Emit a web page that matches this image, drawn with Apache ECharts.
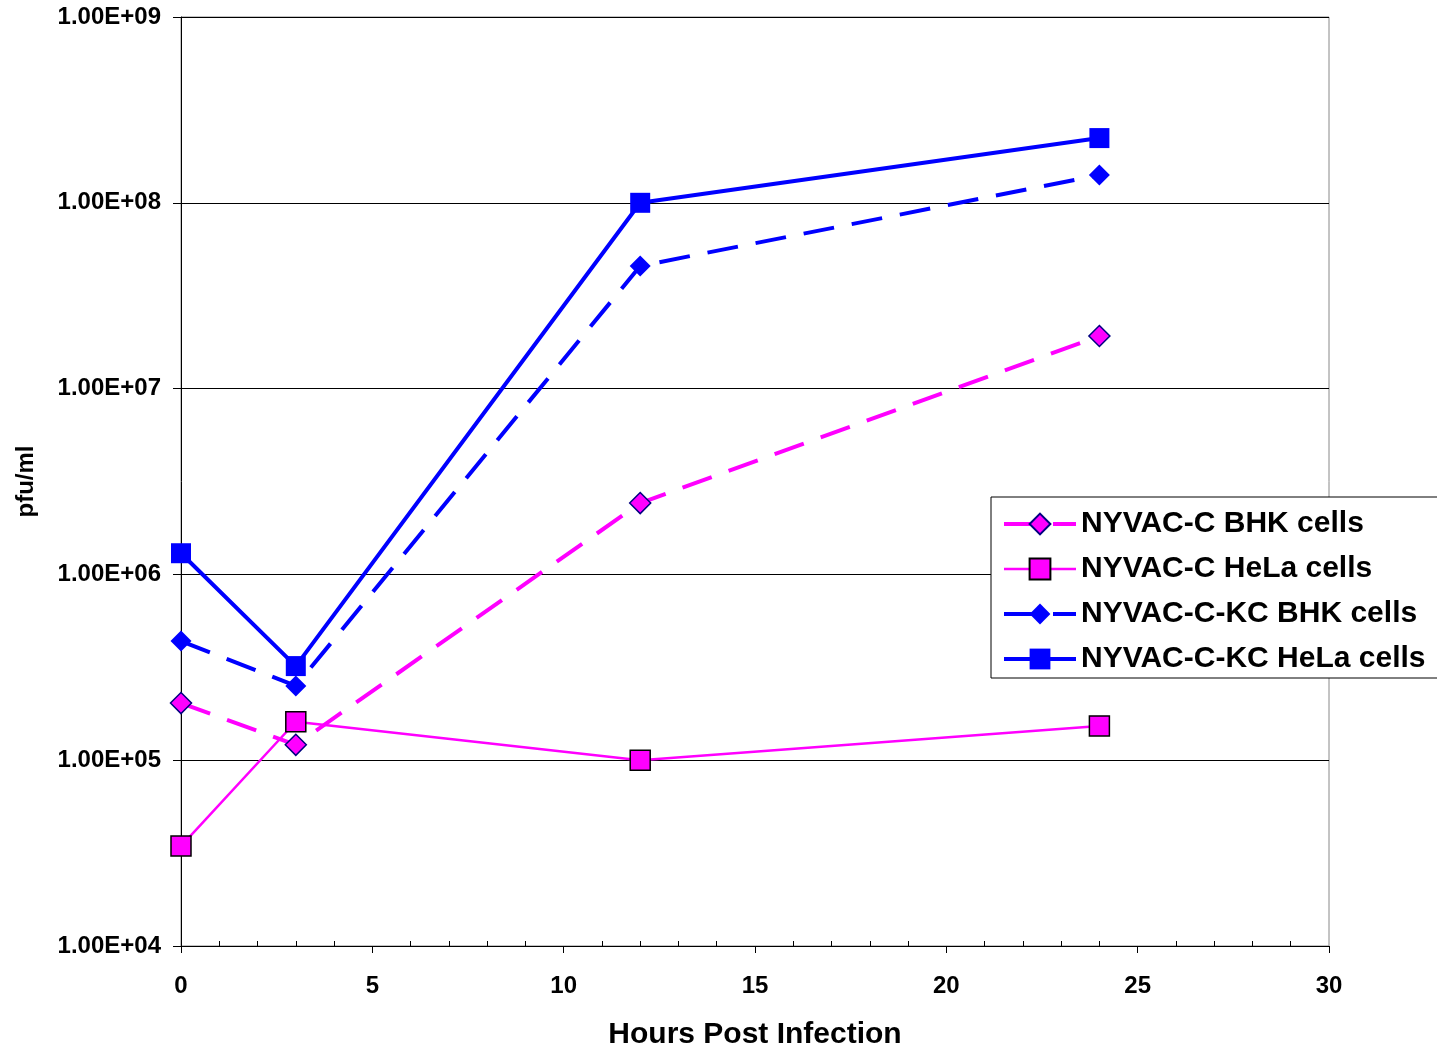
<!DOCTYPE html>
<html>
<head>
<meta charset="utf-8">
<script src="https://cdn.jsdelivr.net/npm/echarts@6/dist/echarts.min.js"></script>
<style>
  html, body { margin: 0; padding: 0; background: #fff; }
  #chart { width: 1437px; height: 1050px; }
</style>
</head>
<body>
<div id="chart"></div>
<script>
const hours = [0, 3, 12, 24]
const bhkC = [2.03e5, 1.21e5, 2.42e6, 1.92e7]
const helaC = [3.45e4, 1.61e5, 1.0e5, 1.53e5]
const bhkKC = [4.38e5, 2.51e5, 4.57e7, 1.41e8]
const helaKC = [1.3e6, 3.21e5, 1.0e8, 2.23e8]
const names = ['NYVAC-C BHK cells', 'NYVAC-C HeLa cells', 'NYVAC-C-KC BHK cells', 'NYVAC-C-KC HeLa cells']

const FONT = '"Liberation Sans", Arial, sans-serif'
const MAGENTA = '#FF00FF'
const BLUE = '#0000FF'
const DASH = [31, 18]

const pairs = (vals) => hours.map((h, i) => [h, vals[i]])

const fmtExp = (v) => {
  const e = Math.round(Math.log10(v))
  const m = v / Math.pow(10, e)
  return m.toFixed(2) + 'E' + (e < 0 ? '-' : '+') + String(Math.abs(e)).padStart(2, '0')
}

const baseLine = (name, data, color, opts) => ({
  name,
  type: 'line',
  data: pairs(data),
  symbol: opts.symbol,
  symbolSize: opts.size,
  lineStyle: { color, width: opts.width, type: opts.dashed ? DASH : 'solid' },
  itemStyle: {
    color,
    borderColor: opts.border,
    borderWidth: opts.border === color ? 0 : 1.5,
  },
  emphasis: { disabled: true },
})

const chart = echarts.init(document.getElementById('chart'))
chart.setOption({
  backgroundColor: '#fff',
  animation: false,
  textStyle: { fontFamily: FONT },
  grid: {
    left: 181,
    top: 17,
    right: 108,
    bottom: 104,
    outerBoundsMode: 'none',
    show: true,
    borderColor: '#888',
    borderWidth: 1,
  },
  legend: {
    data: names,
    orient: 'vertical',
    left: 991,
    top: 497,
    padding: [12, 20, 4, 11],
    itemGap: 15,
    itemWidth: 72,
    itemHeight: 26,
    backgroundColor: '#fff',
    borderColor: '#000',
    borderWidth: 1,
    borderRadius: 0,
    lineStyle: { width: 'inherit', type: 'inherit' },
    textStyle: { fontFamily: FONT, fontSize: 30, fontWeight: 'bold', color: '#000', lineHeight: 30 },
  },
  xAxis: {
    type: 'value',
    min: 0,
    max: 30,
    interval: 5,
    name: 'Hours Post Infection',
    nameLocation: 'middle',
    nameGap: 74,
    nameTextStyle: { fontFamily: FONT, fontSize: 30, fontWeight: 'bold', color: '#000' },
    axisLine: { lineStyle: { color: '#000', width: 1 } },
    axisTick: { show: true, length: 7, lineStyle: { color: '#000' } },
    minorTick: { show: true, splitNumber: 5, length: -5, lineStyle: { color: '#000' } },
    axisLabel: { fontFamily: FONT, fontSize: 24, fontWeight: 'bold', color: '#000', margin: 28 },
    splitLine: { show: false },
  },
  yAxis: {
    type: 'log',
    logBase: 10,
    min: 1e4,
    max: 1e9,
    name: 'pfu/ml',
    nameLocation: 'middle',
    nameRotate: 90,
    nameGap: 143,
    nameTextStyle: { fontFamily: FONT, fontSize: 24, fontWeight: 'bold', color: '#000' },
    axisLine: { lineStyle: { color: '#000', width: 1 } },
    axisTick: { show: true, length: 8, lineStyle: { color: '#000' } },
    axisLabel: { fontFamily: FONT, fontSize: 24, fontWeight: 'bold', color: '#000', margin: 20, formatter: fmtExp },
    splitLine: { show: true, lineStyle: { color: '#000', width: 1 } },
  },
  series: [
    baseLine(names[0], bhkC, MAGENTA, { symbol: 'diamond', size: 21, width: 4, dashed: true, border: '#000080' }),
    baseLine(names[1], helaC, MAGENTA, { symbol: 'rect', size: 20, width: 2.5, dashed: false, border: '#000' }),
    baseLine(names[2], bhkKC, BLUE, { symbol: 'diamond', size: 21, width: 4, dashed: true, border: BLUE }),
    baseLine(names[3], helaKC, BLUE, { symbol: 'rect', size: 20, width: 4, dashed: false, border: BLUE }),
  ],
})
</script>
</body>
</html>
